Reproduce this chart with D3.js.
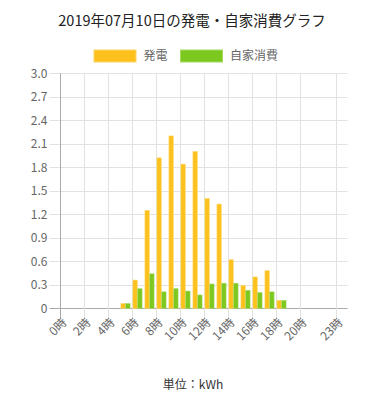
<!DOCTYPE html>
<html>
<head>
<meta charset="utf-8">
<script src="https://cdn.jsdelivr.net/npm/d3@7"></script>
<style>
  body { margin: 0; background: #fff; }
  svg { font-family: "Noto Sans CJK JP", "Noto Sans", sans-serif; }
</style>
</head>
<body>
<div id="chart"></div>
<script>
const W = 385, H = 400;
const margin = { top: 73.3, right: 37.5, bottom: 91.7, left: 59.5 };

// hourly values (kWh)
const hours = d3.range(0, 24);
const hourLabels = hours.map(h => h + "時");
const shownTicks = [0, 2, 4, 6, 8, 10, 12, 14, 16, 18, 20, 23];
const generation = [0, 0, 0, 0, 0, 0.06, 0.36, 1.25, 1.92, 2.20, 1.84, 2.00, 1.40, 1.33, 0.62, 0.29, 0.40, 0.48, 0.10, 0, 0, 0, 0, 0];
const selfUse = [0, 0, 0, 0, 0, 0.06, 0.25, 0.44, 0.21, 0.25, 0.22, 0.17, 0.31, 0.32, 0.32, 0.23, 0.20, 0.21, 0.10, 0, 0, 0, 0, 0];
const yTicks = [0, 0.3, 0.6, 0.9, 1.2, 1.5, 1.8, 2.1, 2.4, 2.7, 3.0];
const seriesNames = ["発電", "自家消費"];
const seriesColors = ["#FCC11C", "#7CC81E"];
const seriesBorders = ["#FDD565", "#A2D95E"];

const svg = d3.select("#chart").append("svg")
  .attr("width", W)
  .attr("height", H);

const x = d3.scaleBand()
  .domain(hours)
  .range([margin.left, W - margin.right])
  .padding(0);

const y = d3.scaleLinear()
  .domain([0, 3])
  .range([H - margin.bottom, margin.top]);

const sub = d3.scaleBand()
  .domain([0, 1])
  .range([x.bandwidth() * 0.1, x.bandwidth() * 0.9])
  .paddingInner(0.1)
  .paddingOuter(0.05);

// title
svg.append("text")
  .attr("x", 192)
  .attr("y", 26)
  .attr("text-anchor", "middle")
  .style("font-size", "14.5px")
  .style("fill", "#222")
  .text("2019年07月10日の発電・自家消費グラフ");

// legend
const legendX = [93.5, 180];
seriesNames.forEach((name, i) => {
  const g = svg.append("g").attr("transform", `translate(${legendX[i]}, 49.5)`);
  g.append("rect")
    .attr("x", 0.5).attr("y", 0.5)
    .attr("width", 42).attr("height", 12)
    .attr("fill", seriesColors[i])
    .attr("stroke", seriesBorders[i]);
  g.append("text")
    .attr("x", 50)
    .attr("y", 6.5)
    .attr("dy", "0.35em")
    .style("font-size", "12px")
    .style("fill", "#666")
    .text(name);
});

// horizontal grid + y labels
svg.append("g")
  .selectAll("line")
  .data(yTicks)
  .join("line")
    .attr("x1", margin.left - 10)
    .attr("x2", W - margin.right)
    .attr("y1", d => Math.round(y(d)) + 0.5)
    .attr("y2", d => Math.round(y(d)) + 0.5)
    .attr("stroke", d => d === 0 ? "#aaa" : "#e2e2e2");

svg.append("g")
  .selectAll("text")
  .data(yTicks)
  .join("text")
    .attr("x", margin.left - 12)
    .attr("y", d => y(d))
    .attr("dy", "0.35em")
    .attr("text-anchor", "end")
    .style("font-size", "12px")
    .style("fill", "#666")
    .text(d => d === 0 ? "0" : d.toFixed(1));

// vertical grid for shown ticks
svg.append("g")
  .selectAll("line")
  .data(shownTicks)
  .join("line")
    .attr("x1", d => Math.round(x(d)) + 0.5)
    .attr("x2", d => Math.round(x(d)) + 0.5)
    .attr("y1", margin.top)
    .attr("y2", H - margin.bottom + 10)
    .attr("stroke", d => d === 0 ? "#aaa" : "#e2e2e2");

// bars
[generation, selfUse].forEach((vals, i) => {
  svg.append("g")
    .selectAll("rect")
    .data(hours.filter(h => vals[h] > 0))
    .join("rect")
      .attr("x", h => x(h) + sub(i))
      .attr("y", h => y(vals[h]))
      .attr("width", sub.bandwidth())
      .attr("height", h => y(0) - y(vals[h]))
      .attr("fill", seriesColors[i])
      .attr("stroke", seriesBorders[i])
      .attr("stroke-width", 0.6);
});

// x labels
svg.append("g")
  .selectAll("text")
  .data(shownTicks)
  .join("text")
    .attr("transform", d => `translate(${x(d) + x.bandwidth() / 2 - 1}, ${H - margin.bottom + 12}) rotate(-45)`)
    .attr("text-anchor", "end")
    .attr("dy", "0.35em")
    .style("font-size", "12px")
    .style("fill", "#666")
    .text(d => hourLabels[d]);

// unit
svg.append("text")
  .attr("x", 193)
  .attr("y", 389)
  .attr("text-anchor", "middle")
  .style("font-size", "12px")
  .style("fill", "#333")
  .text("単位：kWh");
</script>
</body>
</html>
